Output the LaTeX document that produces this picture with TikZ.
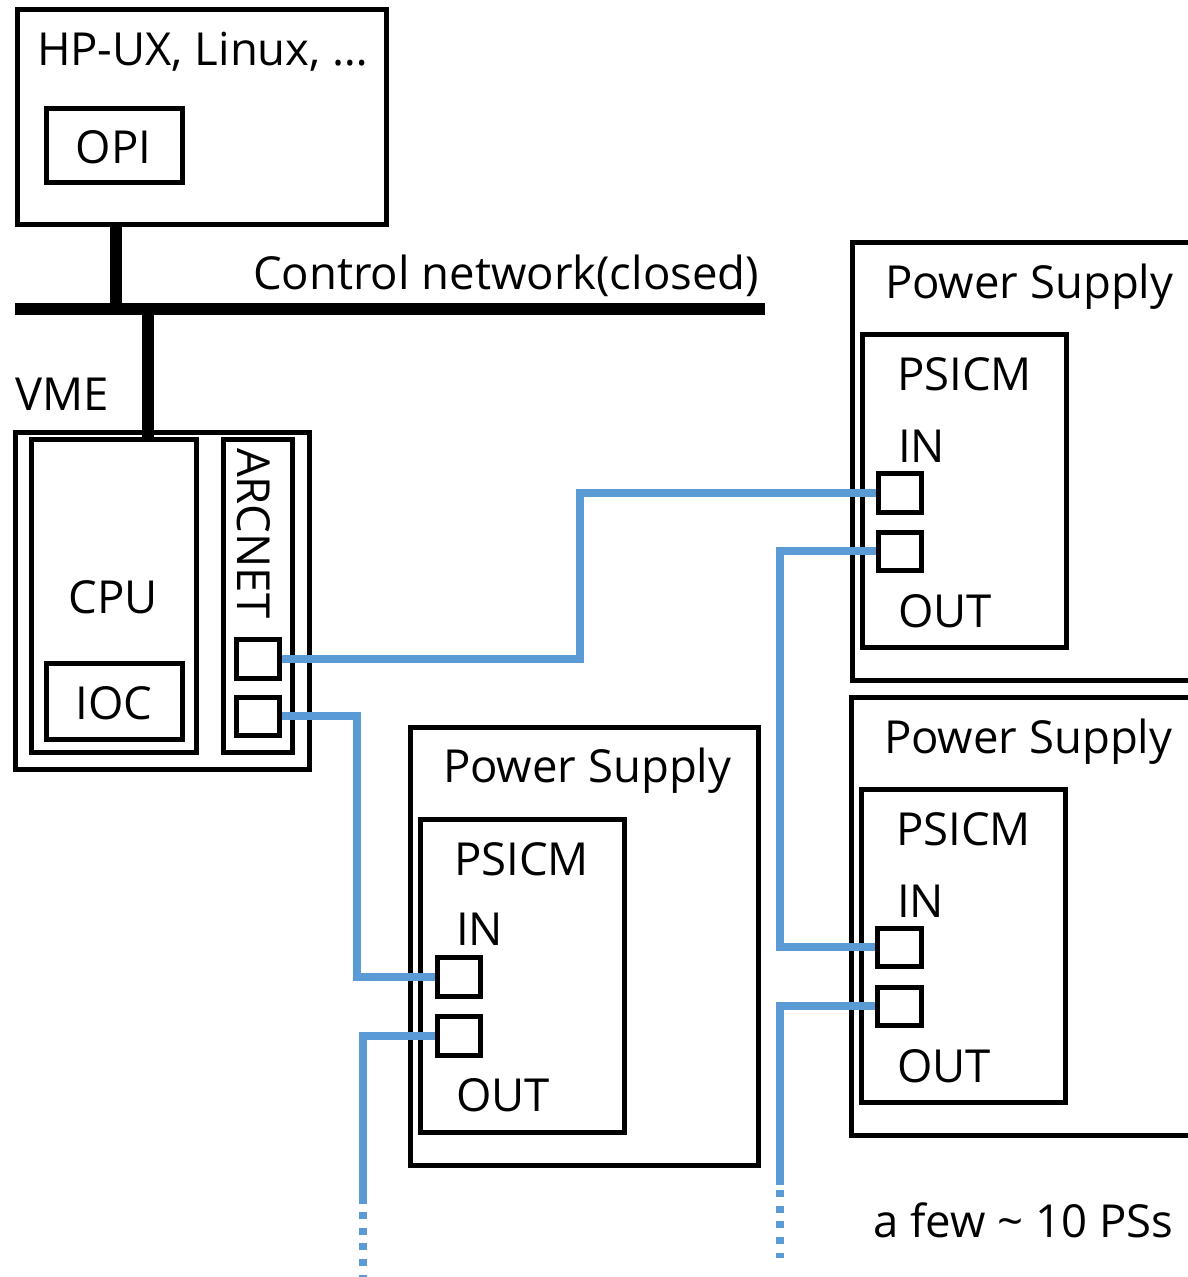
\documentclass[tikz,border=0pt]{standalone}
\usepackage{fontspec}
\setmainfont{Open Sans}
\usetikzlibrary{fit}
\definecolor{linkblue}{HTML}{5B9BD5}
\tikzset{
  box/.style={draw=black, line width=5pt, rectangle, inner sep=0pt, outer sep=0pt},
  port/.style={box, outer sep=2.5pt},
  lbl/.style={anchor=base west, inner sep=0pt, outer sep=0pt, font=\fontsize{45.5}{50}\selectfont},
  bus/.style={draw=black, line width=12pt},
  link/.style={draw=linkblue, line width=8pt},
  linkdots/.style={draw=linkblue, line width=8pt, dash pattern=on 7pt off 8.7pt},
}
\begin{document}
\begin{tikzpicture}[x=1pt, y=-1pt]
\useasboundingbox (0,0) rectangle (1187,1277);
% host
\node[box, fit={(17,9) (386,224)}] (host) {};
\node[box, fit={(46,108) (182,182)}] (opi) {};
\node[lbl] (thost) at (37,65) {HP-UX, Linux, …};
\node[lbl, anchor=base] (topi) at (113.5,163) {OPI};
% bus
\coordinate (busL) at (15,309);
\coordinate (busR) at (765,309);
\coordinate (hostdrop) at (116,309);
\coordinate (vmetap) at (148,309);
\node[lbl] (tnet) at (253,289) {Control network(closed)};
% VME
\node[box, fit={(15,432) (309,769)}] (vme) {};
\node[box, fit={(31,439) (196,752)}] (cpu) {};
\node[box, fit={(223,439) (292,752)}] (arc) {};
\node[box, fit={(46,663) (182,739)}] (ioc) {};
\node[port, fit={(236,639) (279,678)}] (ap1) {};
\node[port, fit={(236,697) (279,735)}] (ap2) {};
\node[lbl] (tvme) at (15,410) {VME};
\node[lbl, anchor=base] (tcpu) at (113,613) {CPU};
\node[lbl, anchor=base] (tioc) at (114,719) {IOC};
\node[lbl, rotate=-90] (tarc) at (237,448) {ARCNET};
\draw[bus] (busL) -- (busR);
\draw[bus] (hostdrop |- host.south) -- (hostdrop);
\draw[bus] (vmetap) -- (vmetap |- cpu.north);
% Power supply A (middle)
\node[box, fit={(410,727) (758,1165)}] (psA) {};
\node[box, fit={(420,819) (624,1132)}] (psAi) {};
\node[lbl] (tpsA) at (443,782) {Power Supply};
\node[lbl] (tpsAi) at (454,875) {PSICM};
\node[lbl] (tainA) at (456,945) {IN};
\node[lbl] (taoutA) at (456,1111) {OUT};
% Power supply B (top right)
\node[box, fit={(852,242) (1210,680)}] (psB) {};
\node[box, fit={(862,334) (1066,647)}] (psBi) {};
\node[lbl] (tpsB) at (885,298) {Power Supply};
\node[lbl] (tpsBi) at (897,390) {PSICM};
\node[lbl] (tinB) at (898,462) {IN};
\node[lbl] (toutB) at (898,627) {OUT};
% Power supply C (bottom right)
\node[box, fit={(851,697) (1210,1135)}] (psC) {};
\node[box, fit={(861,789) (1065,1102)}] (psCi) {};
\node[lbl] (tpsC) at (884,753) {Power Supply};
\node[lbl] (tpsCi) at (896,845) {PSICM};
\node[lbl] (tinC) at (897,917) {IN};
\node[lbl] (toutC) at (897,1082) {OUT};
\node[lbl] (tcount) at (873,1237) {a few \textasciitilde{} 10 PSs};
% links
\coordinate (j1) at (580,0);
\coordinate (j2) at (357,0);
\coordinate (j3) at (780,0);
\coordinate (aend) at (363,1204);
\coordinate (adots) at (363,1212);
\coordinate (aendd) at (363,1280);
\coordinate (cend) at (780,1185);
\coordinate (cdots) at (780,1190);
\coordinate (cendd) at (780,1258);
\node[port, fit={(437,957) (480,996)}] (ain) {};
\node[port, fit={(437,1016) (480,1055)}] (aout) {};
\node[port, fit={(878,473) (921,512)}] (bin) {};
\node[port, fit={(878,532) (921,570)}] (bout) {};
\node[port, fit={(877,928) (921,966)}] (cin) {};
\node[port, fit={(877,987) (921,1025)}] (cout) {};
\draw[link] (ap1.east) -| (bin.west -| j1) -- (bin.west);
\draw[link] (ap2.east) -| (ain.west -| j2) -- (ain.west);
\draw[link] (bout.west) -| (cin.west -| j3) -- (cin.west);
\draw[link] (aout.west) -| (aend);
\draw[linkdots] (adots) -- (aendd);
\draw[link] (cout.west) -| (cend);
\draw[linkdots] (cdots) -- (cendd);
\end{tikzpicture}
\end{document}
